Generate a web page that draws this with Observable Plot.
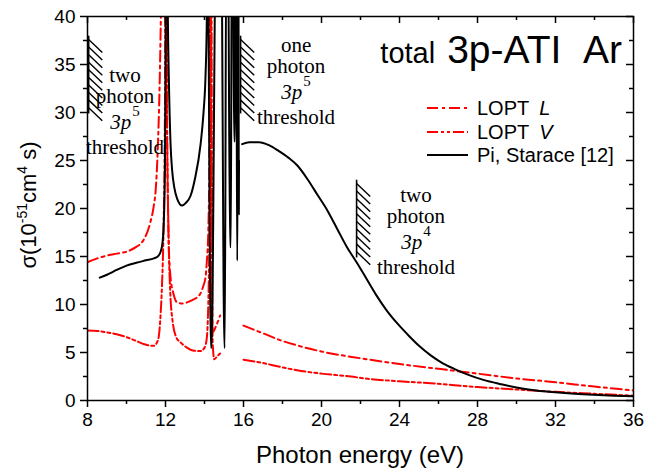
<!DOCTYPE html>
<html><head><meta charset="utf-8">
<script src="https://cdn.jsdelivr.net/npm/d3@7"></script>
<script src="https://cdn.jsdelivr.net/npm/@observablehq/plot@0.6"></script>
<style>body{margin:0;background:#fff} svg{display:block}</style>
</head><body><div id="chart"></div>
<script>
// ---- data (photon energy in eV, cross section in 1e-51 cm^4 s) ----
const energyL = [8.0, 8.5, 9.0, 9.5, 10.0, 10.5, 10.8, 11.0, 11.2, 11.4, 11.5, 11.6, 11.7, 11.8, 11.9, 12.0, 12.1, 12.17, 12.26, 12.4, 12.6, 12.9, 13.2, 13.5, 13.75, 13.95, 14.05, 14.12, 14.2, 14.26, 14.3, 14.34, 14.38, 14.42, 14.6, 14.8, 15.4, 16.0, 17.0, 18.0, 19.0, 20.0, 22.0, 24.0, 26.0, 28.0, 30.0, 32.0, 34.0, 36.0];
const sigmaL  = [14.4, 14.8, 15.1, 15.3, 15.5, 16.0, 16.5, 17.2, 18.4, 20.3, 22.0, 26, 33, 45, 60, 45, 24, 16, 12.8, 11.2, 10.2, 10.1, 10.3, 10.6, 11.0, 12.0, 12.8, 14.5, 18, 28, 60, 30, 12, 7.1, 7.8, 8.85, NaN, 7.8, 7.0, 6.2, 5.6, 5.1, 4.4, 3.8, 3.3, 2.8, 2.3, 1.9, 1.45, 1.05];

const energyV = [8.0, 8.5, 9.0, 9.5, 10.0, 10.5, 10.85, 11.1, 11.4, 11.55, 11.65, 11.75, 11.82, 11.9, 11.97, 12.02, 12.08, 12.15, 12.25, 12.35, 12.55, 12.8, 13.1, 13.4, 13.8, 14.0, 14.1, 14.18, 14.25, 14.3, 14.34, 14.38, 14.42, 14.5, 14.65, 14.8, 15.4, 16.0, 17.0, 18.0, 18.75, 20.0, 21.5, 22.2, 24.0, 25.6, 28.0, 30.0, 32.0, 34.0, 36.0];
const sigmaV  = [7.3, 7.25, 7.1, 6.9, 6.6, 6.2, 5.9, 5.75, 5.7, 6.0, 6.6, 9, 12, 18, 30, 60, 30, 18, 11, 8.5, 6.6, 6.0, 5.5, 5.2, 5.15, 5.5, 6.2, 9, 17, 30, 60, 20, 6, 4.3, 4.6, 4.9, NaN, 4.25, 3.9, 3.45, 3.15, 2.8, 2.5, 2.3, 2.0, 1.8, 1.4, 1.15, 0.9, 0.7, 0.5];

const energyPi = [8.63, 9.0, 9.5, 10.0, 10.5, 11.0, 11.4, 11.6, 11.75, 11.85, 11.92, 11.97, 12.0, 12.02, 12.06, 12.1, 12.12, 12.17, 12.26, 12.34, 12.45, 12.6, 12.85, 13.05, 13.28, 13.5, 13.8, 13.95, 14.05, 14.12, 14.15, 14.33, 14.36, 14.6, 14.85, 15.02, 15.04, 15.12, 15.2, 15.31, 15.35, 15.4, 15.45, 15.52, 15.56, 15.6, 15.63, 15.67, 15.69, 15.72, 15.74, 15.76, 15.77, 15.85, 15.93, 16.3, 16.8, 17.3, 17.8, 18.3, 18.75, 19.3, 19.8, 20.3, 20.8, 21.3, 21.8, 22.3, 22.8, 23.3, 23.9, 24.5, 25.0, 25.6, 26.2, 26.8, 27.5, 28.3, 29.2, 30.0, 31.0, 32.0, 33.4, 35.0, 36.0];
const sigmaPi  = [12.8, 13.1, 13.6, 14.05, 14.35, 14.6, 14.8, 15.0, 15.5, 16.5, 19, 24, 33, 45, 60, 45, 40, 33.7, 26.7, 24, 22.2, 21.0, 20.3, 20.6, 21.3, 23.0, 26.7, 30, 33.7, 40, 50, 5.5, 5.5, 50, 50, 5.5, 5.5, 50, 50, 16, 16, 50, 50, 27, 27, 50, 50, 14.6, 14.6, 50, 50, 19.4, 25, NaN, 26.7, 26.9, 26.9, 26.6, 26.0, 25.3, 24.5, 23.0, 21.4, 19.8, 17.9, 16.0, 14.4, 12.7, 11.0, 9.5, 8.0, 6.7, 5.7, 4.7, 3.9, 3.3, 2.7, 2.15, 1.7, 1.35, 1.05, 0.85, 0.65, 0.5, 0.45];

// threshold markers
const thrEnergy = [8.06, 15.85, 21.8];
const thrTop    = [38.0, 38.0, 23.0];
const thrBottom = [29.9, 29.9, 14.9];
const thrFirstWord = ["two", "one", "two"];
const thrPower = ["5", "5", "4"];
const thrLabelX = [9.95, 18.72, 24.87];
const thrLabelY = [33.16, 36.28, 20.66];

// ticks
const xMajor = [8, 12, 16, 20, 24, 28, 32, 36];
const xMinor = [10, 14, 18, 22, 26, 30, 34];
const yMajor = [0, 5, 10, 15, 20, 25, 30, 35, 40];
const yMinor = [2.5, 7.5, 12.5, 17.5, 22.5, 27.5, 32.5, 37.5];

const seriesNames = ["LOPT", "LOPT", "Pi, Starace [12]"];
const seriesItalic = ["L", "V", ""];
const seriesColors = ["#ff0000", "#ff0000", "#000000"];
const seriesDash = ["11,4,3,4", "11,3,3,3,3,3", null];

// ---- build rows ----
const rows = (xs, ys) => xs.map((x, i) => ({x, y: ys[i]}));
const dataL = rows(energyL, sigmaL);
const dataV = rows(energyV, sigmaV);
const dataPi = rows(energyPi, sigmaPi);
const thr = thrEnergy.map((x, i) => ({x, top: thrTop[i], bottom: thrBottom[i]}));
const hatches = [];
thr.forEach(t => {
  const n = 10, a = t.top - 0.4, b = t.bottom + 0.6;
  for (let k = 0; k < n; k++) {
    const y0 = a - (a - b) * k / (n - 1);
    hatches.push({x1: t.x, y1: y0, x2: t.x + 0.7, y2: y0 - 1.35});
  }
});

const W = 662, H = 474, mL = 87, mR = 29, mT = 16, mB = 74;
const iW = W - mL - mR, iH = H - mT - mB;

const chart = Plot.plot({
  width: W, height: H,
  marginLeft: mL, marginRight: mR, marginTop: mT, marginBottom: mB,
  x: {domain: [8, 36], label: null},
  y: {domain: [0, 40], label: null},
  style: {fontFamily: "'Liberation Sans', Arial, sans-serif", fontSize: "19px", color: "black", background: "white", overflow: "visible"},
  marks: [
    Plot.line(dataL, {x: "x", y: "y", stroke: seriesColors[0], strokeWidth: 2, strokeDasharray: seriesDash[0], curve: "monotone-x", clip: true}),
    Plot.line(dataV, {x: "x", y: "y", stroke: seriesColors[1], strokeWidth: 2, strokeDasharray: seriesDash[1], curve: "monotone-x", clip: true}),
    Plot.line(dataPi, {x: "x", y: "y", stroke: seriesColors[2], strokeWidth: 2, curve: "monotone-x", clip: true}),
    Plot.link(thr, {x1: "x", y1: "top", x2: "x", y2: "bottom", stroke: "black", strokeWidth: 1.6}),
    Plot.link(hatches, {x1: "x1", y1: "y1", x2: "x2", y2: "y2", stroke: "black", strokeWidth: 1.4}),
    Plot.frame({stroke: "black", strokeWidth: 1.5}),
    Plot.axisX({ticks: xMajor, tickSize: 7, tickPadding: 5, strokeWidth: 1.5, label: null}),
    Plot.axisX({ticks: xMinor, tickSize: 4, tickFormat: () => "", strokeWidth: 1.5, label: null}),
    Plot.axisY({ticks: yMajor, tickSize: 7, tickPadding: 5, strokeWidth: 1.5, label: null}),
    Plot.axisY({ticks: yMinor, tickSize: 4, tickFormat: () => "", strokeWidth: 1.5, label: null}),
    Plot.tickX(xMajor, {x: d => d, insetBottom: iH - 7, strokeWidth: 1.5}),
    Plot.tickX(xMinor, {x: d => d, insetBottom: iH - 4, strokeWidth: 1.5}),
    Plot.tickY(yMajor, {y: d => d, insetLeft: iW - 7, strokeWidth: 1.5}),
    Plot.tickY(yMinor, {y: d => d, insetLeft: iW - 4, strokeWidth: 1.5})
  ]
});
document.getElementById("chart").appendChild(chart);

const sx = chart.scale("x"), sy = chart.scale("y");
const svg = d3.select(chart);

// axis titles
svg.append("text")
  .attr("x", mL + iW / 2).attr("y", 463)
  .attr("text-anchor", "middle")
  .style("font-size", "24px")
  .text("Photon energy (eV)");

const yl = svg.append("text")
  .attr("transform", "translate(36,205) rotate(-90)")
  .attr("text-anchor", "middle")
  .style("font-size", "22px");
yl.append("tspan").text("σ(10");
yl.append("tspan").attr("dy", "-9").style("font-size", "14px").text("-51");
yl.append("tspan").attr("dy", "9").text("cm");
yl.append("tspan").attr("dy", "-9").style("font-size", "14px").text("4");
yl.append("tspan").attr("dy", "9").text(" s)");

// title inside frame
const tt = svg.append("text")
  .attr("x", 622).attr("y", 63)
  .attr("text-anchor", "end");
tt.append("tspan").style("font-size", "29px").text("total");
tt.append("tspan").style("font-size", "39px").attr("dx", "12").text("3p-ATI\u00A0\u00A0Ar");

// legend
const legY = [108, 132, 155];
seriesNames.forEach((name, i) => {
  svg.append("line")
    .attr("x1", 427).attr("x2", 468).attr("y1", legY[i]).attr("y2", legY[i])
    .attr("stroke", seriesColors[i]).attr("stroke-width", 2)
    .attr("stroke-dasharray", seriesDash[i]);
  const t = svg.append("text").attr("x", 477).attr("y", legY[i]).attr("dy", "0.35em")
    .attr("text-anchor", "start")
    .style("font-size", "20px");
  t.append("tspan").text(name);
  if (seriesItalic[i]) t.append("tspan").attr("dx", "10").style("font-style", "italic").text(seriesItalic[i]);
});

// threshold annotations
thrLabelX.forEach((xv, i) => {
  const cx = sx.apply(xv), by = sy.apply(thrLabelY[i]);
  const g = svg.append("g").style("font-family", "'Liberation Serif', 'Times New Roman', serif").style("font-size", "21px").attr("text-anchor", "middle");
  g.append("text").attr("x", cx).attr("y", by).text(thrFirstWord[i]);
  g.append("text").attr("x", cx).attr("y", by + 21).text("photon");
  const p = g.append("text").attr("x", cx).attr("y", by + 47);
  p.append("tspan").style("font-style", "italic").text("3p");
  p.append("tspan").attr("dy", "-13").attr("dx", "1").style("font-size", "15px").text(thrPower[i]);
  g.append("text").attr("x", cx).attr("y", by + 72).text("threshold");
});
</script>
</body></html>
